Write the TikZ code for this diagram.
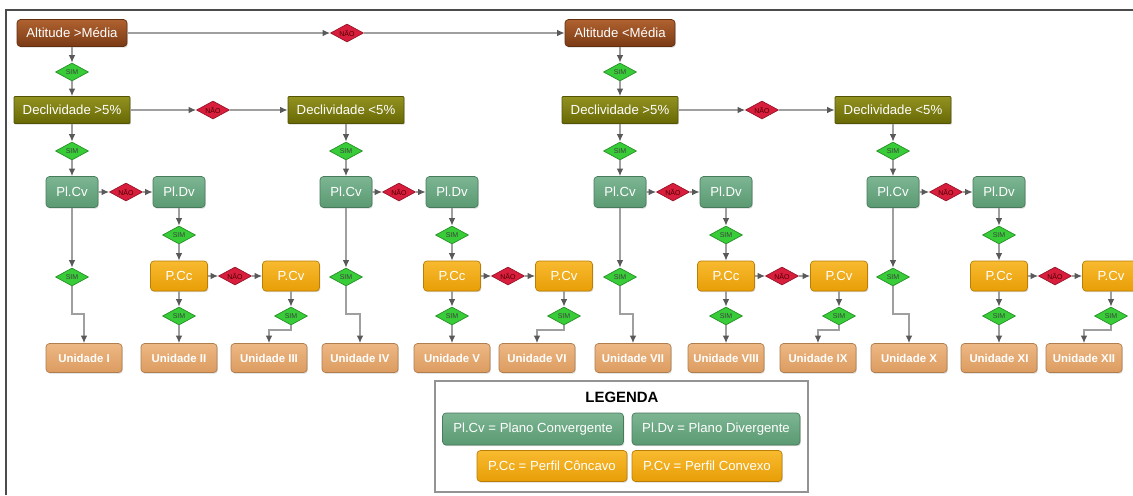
\documentclass[tikz,border=0pt]{standalone}
\usepackage{fontspec}
\setmainfont{Liberation Sans}
\usetikzlibrary{arrows.meta,positioning,shapes.geometric,shadows}
\definecolor{alttop}{HTML}{B0622F}
\definecolor{altbot}{HTML}{7A3A14}
\definecolor{dectop}{HTML}{929220}
\definecolor{decbot}{HTML}{686806}
\definecolor{pltop}{HTML}{7DB593}
\definecolor{plbot}{HTML}{5A9A72}
\definecolor{pftop}{HTML}{F8BA30}
\definecolor{pfbot}{HTML}{E89E06}
\definecolor{untop}{HTML}{EDB784}
\definecolor{unbot}{HTML}{DC9C60}
\definecolor{simfill}{HTML}{38CC38}
\definecolor{naofill}{HTML}{D81E3C}

\begin{document}
\begin{tikzpicture}[x=0.02cm,y=-0.02cm,
   base/.style={rounded corners=2pt,text=white,inner sep=1pt,
                font=\fontsize{7.5}{9}\selectfont,
                drop shadow={opacity=0.3,shadow xshift=0.5pt,shadow yshift=-0.7pt}},
   alt/.style={base,draw=altbot!80!black,top color=alttop,bottom color=altbot,
               minimum width=2.2cm,minimum height=0.54cm},
   dec/.style={base,rounded corners=0.5pt,draw=decbot!80!black,top color=dectop,
               bottom color=decbot,minimum width=2.32cm,minimum height=0.54cm},
   pl/.style={base,draw=plbot!80!black,top color=pltop,bottom color=plbot,
              minimum width=1.04cm,minimum height=0.62cm},
   pf/.style={base,draw=pfbot!80!black,top color=pftop,bottom color=pfbot,
              minimum width=1.14cm,minimum height=0.6cm},
   un/.style={base,draw=unbot!80!black,top color=untop,bottom color=unbot,
              font=\bfseries\fontsize{6.5}{8}\selectfont,
              minimum width=1.52cm,minimum height=0.58cm},
   sim/.style={diamond,aspect=1.8,draw=simfill!70!black,fill=simfill,inner sep=0pt,
               minimum width=0.66cm,minimum height=0.36cm,
               font=\fontsize{4}{4}\selectfont,text=black!75},
   nao/.style={sim,draw=naofill!70!black,fill=naofill,text=black!70!red},
   arr/.style={draw=gray!75,line width=0.7pt,
               -{Latex[length=1.5mm,width=1.3mm,color=black!65]}}]
  \useasboundingbox (0,0) rectangle (1133,495);
  \clip (0,0) rectangle (1133,495);
  % frame
  \draw[gray!60!black,line width=1.1pt] (6,495) -- (6,10) -- (1133,10);
  % altitude and slope
  \node[alt] (altA) at (72,33) {Altitude >Média};
  \node[nao] (n0) at (347,33) {NÃO};
  \node[alt] (altB) at (620,33) {Altitude <Média};
  \node[sim] (s0a) at (72,72) {SIM};
  \node[sim] (s0b) at (620,72) {SIM};
  \node[dec] (decA) at (72,110) {Declividade >5\%};
  \node[nao] (n1a) at (213,110) {NÃO};
  \node[dec] (decB) at (346,110) {Declividade <5\%};
  \node[dec] (decC) at (620,110) {Declividade >5\%};
  \node[nao] (n1b) at (762,110) {NÃO};
  \node[dec] (decD) at (893,110) {Declividade <5\%};
  \node[sim] (s1a) at (72,151) {SIM};
  \node[sim] (s1b) at (346,151) {SIM};
  \node[sim] (s1c) at (620,151) {SIM};
  \node[sim] (s1d) at (893,151) {SIM};
  % block 1
  \node[pl] (cv1) at (72,192) {Pl.Cv};
  \node[nao] (n2a) at (126,192) {NÃO};
  \node[pl] (dv1) at (179,192) {Pl.Dv};
  \node[sim] (s3a) at (72,277) {SIM};
  \node[sim] (s2a) at (179,235) {SIM};
  \node[pf] (cc1) at (179,276) {P.Cc};
  \node[nao] (n3a) at (235,276) {NÃO};
  \node[pf] (cx1) at (291,276) {P.Cv};
  \node[sim] (s4a) at (179,316) {SIM};
  \node[sim] (s5a) at (291,316) {SIM};
  \node[un] (u1) at (84,358) {Unidade I};
  \node[un] (u2) at (179,358) {Unidade II};
  \node[un] (u3) at (269,358) {Unidade III};
  % block 2
  \node[pl] (cv2) at (346,192) {Pl.Cv};
  \node[nao] (n2b) at (399,192) {NÃO};
  \node[pl] (dv2) at (452,192) {Pl.Dv};
  \node[sim] (s3b) at (346,277) {SIM};
  \node[sim] (s2b) at (452,235) {SIM};
  \node[pf] (cc2) at (452,276) {P.Cc};
  \node[nao] (n3b) at (508,276) {NÃO};
  \node[pf] (cx2) at (564,276) {P.Cv};
  \node[sim] (s4b) at (452,316) {SIM};
  \node[sim] (s5b) at (564,316) {SIM};
  \node[un] (u4) at (360,358) {Unidade IV};
  \node[un] (u5) at (452,358) {Unidade V};
  \node[un] (u6) at (537,358) {Unidade VI};
  % block 3
  \node[pl] (cv3) at (620,192) {Pl.Cv};
  \node[nao] (n2c) at (673,192) {NÃO};
  \node[pl] (dv3) at (726,192) {Pl.Dv};
  \node[sim] (s3c) at (620,277) {SIM};
  \node[sim] (s2c) at (726,235) {SIM};
  \node[pf] (cc3) at (726,276) {P.Cc};
  \node[nao] (n3c) at (782,276) {NÃO};
  \node[pf] (cx3) at (839,276) {P.Cv};
  \node[sim] (s4c) at (726,316) {SIM};
  \node[sim] (s5c) at (839,316) {SIM};
  \node[un] (u7) at (633,358) {Unidade VII};
  \node[un] (u8) at (726,358) {Unidade VIII};
  \node[un] (u9) at (818,358) {Unidade IX};
  % block 4
  \node[pl] (cv4) at (893,192) {Pl.Cv};
  \node[nao] (n2d) at (946,192) {NÃO};
  \node[pl] (dv4) at (999,192) {Pl.Dv};
  \node[sim] (s3d) at (893,277) {SIM};
  \node[sim] (s2d) at (999,235) {SIM};
  \node[pf] (cc4) at (999,276) {P.Cc};
  \node[nao] (n3d) at (1055,276) {NÃO};
  \node[pf] (cx4) at (1111,276) {P.Cv};
  \node[sim] (s4d) at (999,316) {SIM};
  \node[sim] (s5d) at (1111,316) {SIM};
  \node[un] (u10) at (909,358) {Unidade X};
  \node[un] (u11) at (999,358) {Unidade XI};
  \node[un] (u12) at (1084,358) {Unidade XII};
  % connectors, top
  \draw[arr] (altA) -- (n0);
  \draw[arr] (n0) -- (altB);
  \draw[arr] (altA) -- (s0a);
  \draw[arr] (s0a) -- (decA);
  \draw[arr] (altB) -- (s0b);
  \draw[arr] (s0b) -- (decC);
  \draw[arr] (decA) -- (n1a);
  \draw[arr] (n1a) -- (decB);
  \draw[arr] (decC) -- (n1b);
  \draw[arr] (n1b) -- (decD);
  \draw[arr] (decA) -- (s1a);
  \draw[arr] (decB) -- (s1b);
  \draw[arr] (decC) -- (s1c);
  \draw[arr] (decD) -- (s1d);
  \draw[arr] (s1a) -- (cv1);
  \draw[arr] (s1b) -- (cv2);
  \draw[arr] (s1c) -- (cv3);
  \draw[arr] (s1d) -- (cv4);
  % connectors, block 1
  \draw[arr] (cv1) -- (n2a);
  \draw[arr] (n2a) -- (dv1);
  \draw[arr] (cv1) -- (s3a);
  \draw[arr] (s3a) -- ++(0,37) -| (u1);
  \draw[arr] (dv1) -- (s2a);
  \draw[arr] (s2a) -- (cc1);
  \draw[arr] (cc1) -- (n3a);
  \draw[arr] (n3a) -- (cx1);
  \draw[arr] (cc1) -- (s4a);
  \draw[arr] (s4a) -- (u2);
  \draw[arr] (cx1) -- (s5a);
  \draw[arr] (s5a) -- ++(0,14) -| (u3);
  % connectors, block 2
  \draw[arr] (cv2) -- (n2b);
  \draw[arr] (n2b) -- (dv2);
  \draw[arr] (cv2) -- (s3b);
  \draw[arr] (s3b) -- ++(0,37) -| (u4);
  \draw[arr] (dv2) -- (s2b);
  \draw[arr] (s2b) -- (cc2);
  \draw[arr] (cc2) -- (n3b);
  \draw[arr] (n3b) -- (cx2);
  \draw[arr] (cc2) -- (s4b);
  \draw[arr] (s4b) -- (u5);
  \draw[arr] (cx2) -- (s5b);
  \draw[arr] (s5b) -- ++(0,14) -| (u6);
  % connectors, block 3
  \draw[arr] (cv3) -- (n2c);
  \draw[arr] (n2c) -- (dv3);
  \draw[arr] (cv3) -- (s3c);
  \draw[arr] (s3c) -- ++(0,37) -| (u7);
  \draw[arr] (dv3) -- (s2c);
  \draw[arr] (s2c) -- (cc3);
  \draw[arr] (cc3) -- (n3c);
  \draw[arr] (n3c) -- (cx3);
  \draw[arr] (cc3) -- (s4c);
  \draw[arr] (s4c) -- (u8);
  \draw[arr] (cx3) -- (s5c);
  \draw[arr] (s5c) -- ++(0,14) -| (u9);
  % connectors, block 4
  \draw[arr] (cv4) -- (n2d);
  \draw[arr] (n2d) -- (dv4);
  \draw[arr] (cv4) -- (s3d);
  \draw[arr] (s3d) -- ++(0,37) -| (u10);
  \draw[arr] (dv4) -- (s2d);
  \draw[arr] (s2d) -- (cc4);
  \draw[arr] (cc4) -- (n3d);
  \draw[arr] (n3d) -- (cx4);
  \draw[arr] (cc4) -- (s4d);
  \draw[arr] (s4d) -- (u11);
  \draw[arr] (cx4) -- (s5d);
  \draw[arr] (s5d) -- ++(0,14) -| (u12);
  % legend
  \node[draw=gray!85,line width=0.8pt,minimum width=7.46cm,minimum height=2.22cm]
       (leg) at (621.5,436.5) {};
  \node[font=\bfseries\fontsize{8.5}{10}\selectfont] (legt) at (622,397) {LEGENDA};
  \node[pl,minimum width=3.62cm,minimum height=0.64cm] (lcv) at (533,429)
       {Pl.Cv = Plano Convergente};
  \node[pl,minimum width=3.36cm,minimum height=0.64cm] (ldv) at (716,429)
       {Pl.Dv = Plano Divergente};
  \node[pf,minimum width=3cm,minimum height=0.62cm] (lcc) at (552,466)
       {P.Cc = Perfil Côncavo};
  \node[pf,minimum width=3cm,minimum height=0.62cm] (lcx) at (707,466)
       {P.Cv = Perfil Convexo};
\end{tikzpicture}
\end{document}
